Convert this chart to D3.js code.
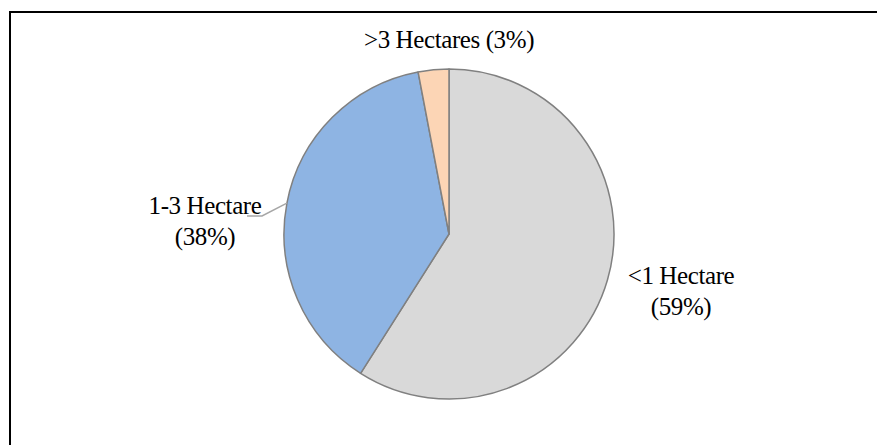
<!DOCTYPE html>
<html>
<head>
<meta charset="utf-8">
<script src="https://cdn.jsdelivr.net/npm/d3@7"></script>
<style>
  html, body { margin: 0; padding: 0; background: #fff; }
  svg { display: block; }
  text { font-family: "Liberation Serif", "Times New Roman", serif; fill: #000; }
</style>
</head>
<body>
<svg id="chart" width="877" height="445"></svg>
<script>
const categories = ["<1 Hectare", "1-3 Hectare", ">3 Hectares"];
const values = [59, 38, 3];
const labelLines = [["<1 Hectare", "(59%)"], ["1-3 Hectare", "(38%)"], [">3 Hectares (3%)"]];
const colors = ["#d9d9d9", "#8eb4e3", "#fcd5b5"];

const svg = d3.select("#chart");
const W = 877, H = 445;

// outer border
svg.append("rect")
  .attr("x", 10).attr("y", 12)
  .attr("width", W + 20).attr("height", H + 20)
  .attr("fill", "none").attr("stroke", "#000").attr("stroke-width", 2);

const cx = 449, cy = 234, r = 165;
const g = svg.append("g").attr("transform", `translate(${cx},${cy})`);

const data = categories.map((c, i) => ({ name: c, value: values[i], i }));
const pie = d3.pie().value(d => d.value).sort(null);
const arc = d3.arc().innerRadius(0).outerRadius(r);
const arcs = pie(data);

g.selectAll("path.slice")
  .data(arcs)
  .enter().append("path")
  .attr("class", "slice")
  .attr("d", arc)
  .attr("fill", d => colors[d.data.i])
  .attr("stroke", "#808080")
  .attr("stroke-width", 1.5)
  .attr("stroke-linejoin", "round");

// labels (position offsets relative to pie center)
const fs = 25, lh = 31;
const labelPos = [
  { x: 232, y: 50, anchor: "middle" },   // <1 Hectare
  { x: -244, y: -20, anchor: "middle" },  // 1-3 Hectare
  { x: 0, y: -186, anchor: "middle" }    // >3 Hectares
];
arcs.forEach((a, k) => {
  const p = labelPos[a.data.i];
  const t = g.append("text")
    .attr("x", p.x).attr("y", p.y)
    .attr("text-anchor", p.anchor)
    .style("font-size", fs + "px")
    .style("letter-spacing", "-0.4px");
  labelLines[a.data.i].forEach((ln, j) => {
    t.append("tspan").attr("x", p.x).attr("dy", j === 0 ? 0 : lh).text(ln);
  });
});

// leader line for 1-3 Hectare
const a1 = arcs[1];
const mid = (a1.startAngle + a1.endAngle) / 2;
const ex = Math.sin(mid) * r, ey = -Math.cos(mid) * r;
g.append("polyline")
  .attr("points", `${ex},${ey} ${-187},${-18} ${-202},${-18}`)
  .attr("fill", "none")
  .attr("stroke", "#a6a6a6")
  .attr("stroke-width", 1.5);
</script>
</body>
</html>
